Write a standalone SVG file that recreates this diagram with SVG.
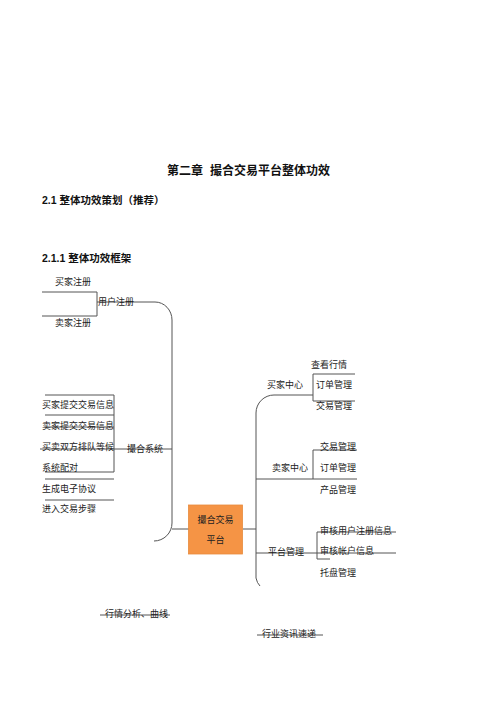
<svg xmlns="http://www.w3.org/2000/svg" width="500" height="707" viewBox="0 0 500 707">
<style>
.h{font-family:"Liberation Sans","Noto Sans CJK SC",sans-serif;font-weight:bold;fill:#111}
.t{font-family:"Noto Sans CJK SC",sans-serif;font-size:9px;fill:#222}
.c line,.c path{stroke:#555;stroke-width:1;fill:none}
</style>
<rect width="500" height="707" fill="#fff"/>
<text class="h" x="167" y="175" font-size="12">第二章<tspan x="210">撮合交易平台整体功效</tspan></text>
<text class="h" x="42" y="204" font-size="10.5">2.1 整体功效策划（推荐）</text>
<text class="h" x="42" y="262" font-size="10.5">2.1.1 整体功效框架</text>

<g class="c" id="connectors">
<path d="M42 292 H97 V316 H42"/>
<path d="M97 302 H155 A17 18 0 0 1 172 320 V523 A18 18 0 0 1 154 541"/>
<line x1="172" y1="529" x2="189" y2="529"/>
<path d="M45 395 H114 V472 H45"/>
<line x1="45" y1="415" x2="114" y2="415"/>
<line x1="45" y1="427" x2="114" y2="427"/>
<line x1="40" y1="449" x2="172" y2="449"/>
<line x1="45" y1="479" x2="114" y2="479"/>
<line x1="45" y1="500" x2="114" y2="500"/>
<line x1="243" y1="529" x2="256" y2="529"/>
<path d="M256 578 V413 A18 18 0 0 1 274 395 H313"/>
<path d="M256 578 Q257 583 260 586"/>
<path d="M355 374 H313 V401 H355"/>
<path d="M256 479 H357"/>
<path d="M357 450 H313 V479"/>
<path d="M256 553 H396"/>
<path d="M396 532 H317 V559 H330"/>
<line x1="100" y1="615" x2="170" y2="615"/>
<line x1="257" y1="635" x2="323" y2="635"/>
</g>

<g id="n-user"><text class="t" x="98" y="305">用户注册</text></g>
<g id="n-buyreg"><text class="t" x="55" y="285">买家注册</text></g>
<g id="n-sellreg"><text class="t" x="55" y="326">卖家注册</text></g>

<g id="n-match"><text class="t" x="127" y="452">撮合系统</text></g>
<g id="n-m1"><text class="t" x="42" y="408">买家提交交易信息</text></g>
<g id="n-m2"><text class="t" x="42" y="429">卖家提交交易信息</text></g>
<g id="n-m3"><text class="t" x="42" y="450">买卖双方排队等候</text></g>
<g id="n-m4"><text class="t" x="42" y="471">系统配对</text></g>
<g id="n-m5"><text class="t" x="42" y="492">生成电子协议</text></g>
<g id="n-m6"><text class="t" x="42" y="512">进入交易步骤</text></g>

<g id="n-root">
<rect x="188.5" y="505" width="54" height="49" fill="#F59445" stroke="#E88A3C" stroke-width="0.8"/>
<text class="t" x="215.5" y="523" text-anchor="middle">撮合交易</text>
<text class="t" x="215.5" y="543" text-anchor="middle">平台</text>
</g>

<g id="n-buyer"><text class="t" x="267" y="388">买家中心</text></g>
<g id="n-b1"><text class="t" x="311" y="368">查看行情</text></g>
<g id="n-b2"><text class="t" x="316" y="388">订单管理</text></g>
<g id="n-b3"><text class="t" x="316" y="409">交易管理</text></g>

<g id="n-seller"><text class="t" x="272" y="471">卖家中心</text></g>
<g id="n-s1"><text class="t" x="320" y="450">交易管理</text></g>
<g id="n-s2"><text class="t" x="320" y="471">订单管理</text></g>
<g id="n-s3"><text class="t" x="320" y="493">产品管理</text></g>

<g id="n-plat"><text class="t" x="268" y="555">平台管理</text></g>
<g id="n-p1"><text class="t" x="320" y="534">审核用户注册信息</text></g>
<g id="n-p2"><text class="t" x="320" y="554">审核帐户信息</text></g>
<g id="n-p3"><text class="t" x="320" y="576">托盘管理</text></g>

<g id="n-quote"><text class="t" x="105" y="617">行情分析、曲线</text></g>
<g id="n-news"><text class="t" x="262" y="637">行业资讯速递</text></g>
</svg>
